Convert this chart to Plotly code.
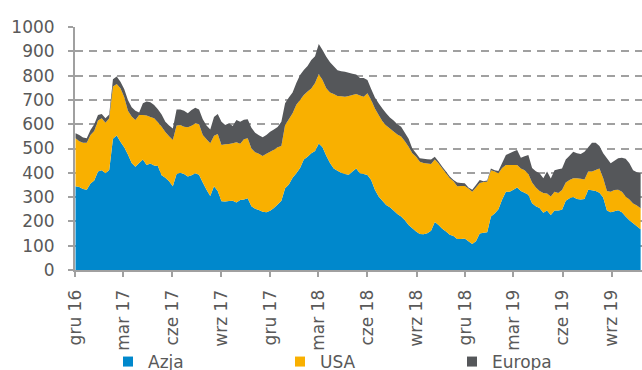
import pandas as pd
import plotly.graph_objects as go

# Weekly volumes by destination region
weeks = pd.date_range("2016-12-02", periods=152, freq="7D")

azja = [
    345, 342, 333, 330, 356, 368, 405, 410, 398, 412,
    540, 553, 528, 505, 475, 440, 425, 440, 455, 432,
    438, 430, 428, 390, 380, 365, 345, 395, 400, 395, 385,
    390, 398, 392, 360, 330, 305, 345, 325, 283, 282,
    284, 285, 278, 288, 290, 295, 262, 252, 247, 240,
    238, 244, 255, 270, 285, 336, 352, 380, 398, 420,
    455, 466, 480, 490, 521, 505, 470, 440, 418, 408,
    400, 395, 392, 405, 418, 398, 395, 391, 370, 330, 302,
    285, 268, 258, 245, 230, 220, 205, 185, 172, 158,
    148, 147, 151, 162, 198, 185, 170, 158, 145, 140,
    128, 128, 130, 118, 107, 118, 150, 153, 155, 220,
    232, 250, 290, 322, 322, 330, 340, 325, 318, 310,
    275, 262, 255, 236, 245, 226, 245, 245, 248, 285, 295,
    300, 292, 290, 292, 330, 328, 325, 318, 298, 245,
    238, 242, 246, 238, 220, 205, 192, 180, 168,
]

usa = [
    197, 188, 191, 194, 200, 204, 210, 214, 208, 212,
    215, 212, 220, 207, 180, 192, 192, 198, 183, 204,
    192, 194, 180, 200, 188, 185, 190, 200, 197, 195, 202,
    204, 206, 208, 196, 208, 217, 207, 235, 231, 235,
    235, 237, 248, 232, 248, 247, 238, 233, 231, 229,
    240, 243, 240, 235, 225, 261, 268, 265, 282, 280,
    265, 269, 267, 280, 286, 277, 278, 290, 306, 308,
    315, 318, 324, 315, 306, 320, 318, 336, 330, 335, 336,
    327, 327, 324, 325, 328, 329, 325, 322, 308, 308,
    297, 293, 287, 274, 257, 253, 248, 240, 233, 225,
    217, 218, 216, 217, 215, 222, 208, 209, 208, 191,
    173, 148, 130, 110, 110, 102, 92, 93, 92, 85,
    85, 78, 70, 81, 70, 76, 77, 72, 81, 75, 75,
    78, 86, 86, 80, 75, 77, 87, 100, 80, 80,
    84, 87, 84, 84, 82, 85, 82, 85, 86,
]

europa = [
    21, 26, 21, 18, 20, 28, 23, 18, 19, 16,
    30, 31, 27, 33, 45, 38, 38, 10, 48, 57,
    60, 55, 54, 50, 42, 45, 47, 65, 63, 65, 58,
    64, 64, 60, 64, 57, 56, 78, 82, 96, 80,
    85, 71, 91, 90, 80, 78, 85, 80, 77, 77,
    78, 82, 83, 83, 100, 89, 90, 85, 90, 102,
    103, 105, 117, 110, 123, 123, 130, 125, 114, 106,
    103, 103, 96, 88, 81, 72, 77, 55, 45, 45, 48,
    53, 50, 46, 45, 42, 41, 35, 33, 20, 14,
    15, 18, 18, 19, 11, 8, 7, 7, 7, 5,
    15, 12, 11, 5, 8, 10, 12, 3, 5, 7,
    5, 9, 20, 41, 48, 56, 62, 44, 58, 78,
    60, 66, 73, 61, 90, 75, 89, 98, 89, 95, 100,
    109, 102, 101, 115, 100, 119, 112, 92, 102, 135,
    117, 121, 130, 140, 156, 149, 136, 137, 144,
]

series_names = ["Azja", "USA", "Europa"]
series_colors = ["#0088CC", "#F9B000", "#55575A"]

tick_dates = ["2016-12-01", "2017-03-01", "2017-06-01", "2017-09-01",
              "2017-12-01", "2018-03-01", "2018-06-01", "2018-09-01",
              "2018-12-01", "2019-03-01", "2019-06-01", "2019-09-01"]
tick_labels = ["gru 16", "mar 17", "cze 17", "wrz 17", "gru 17", "mar 18",
               "cze 18", "wrz 18", "gru 18", "mar 19", "cze 19", "wrz 19"]

FONT = "DejaVu Sans"
TEXT = "#595959"
AXIS = "#A0A0A0"
W, H = 642, 370

fig = go.Figure()
for name, vals, col in zip(series_names, [azja, usa, europa], series_colors):
    fig.add_trace(go.Scatter(
        x=weeks, y=vals, name=name, stackgroup="one", mode="none",
        fillcolor=col, showlegend=False, hoverinfo="x+y+name",
    ))

# legend entries with square swatches, one legend per entry
legend_left = [108, 280, 452]
for i, (name, col) in enumerate(zip(series_names, series_colors)):
    lg = "legend" if i == 0 else f"legend{i + 1}"
    fig.add_trace(go.Scatter(
        x=[None], y=[None], name=name, mode="markers",
        marker=dict(symbol="square", size=10, color=col),
        legend=lg, showlegend=True,
    ))
    fig.update_layout({lg: dict(
        x=legend_left[i] / W, xref="container", xanchor="left",
        y=1 - 362 / H, yref="container", yanchor="middle",
        font=dict(family=FONT, size=17, color=TEXT),
        bgcolor="rgba(0,0,0,0)", borderwidth=0,
        itemwidth=30, tracegroupgap=0,
    )})

fig.update_layout(
    width=W, height=H,
    margin=dict(l=75, r=0, t=27, b=100, pad=0, autoexpand=False),
    paper_bgcolor="white", plot_bgcolor="white",
    font=dict(family=FONT, size=17, color=TEXT),
    showlegend=True,
)

fig.update_xaxes(
    type="date",
    range=["2016-12-01", "2019-10-27 14:00"],
    tickmode="array", tickvals=tick_dates, ticktext=tick_labels,
    tickangle=-90, ticks="outside", ticklen=5, tickwidth=2, tickcolor=AXIS,
    showline=True, linecolor=AXIS, linewidth=2,
    showgrid=False, zeroline=False,
    tickfont=dict(family=FONT, size=17, color=TEXT),
    ticklabelstandoff=6,
)

fig.update_yaxes(
    range=[0, 1000], dtick=100, tick0=0,
    ticks="outside", ticklen=5, tickwidth=2, tickcolor=AXIS,
    showline=True, linecolor=AXIS, linewidth=2,
    showgrid=True, gridcolor=AXIS, gridwidth=2, griddash="8px,6px",
    zeroline=False,
    tickfont=dict(family=FONT, size=17, color=TEXT),
    ticklabelstandoff=10,
)

fig.write_html("out.html")
